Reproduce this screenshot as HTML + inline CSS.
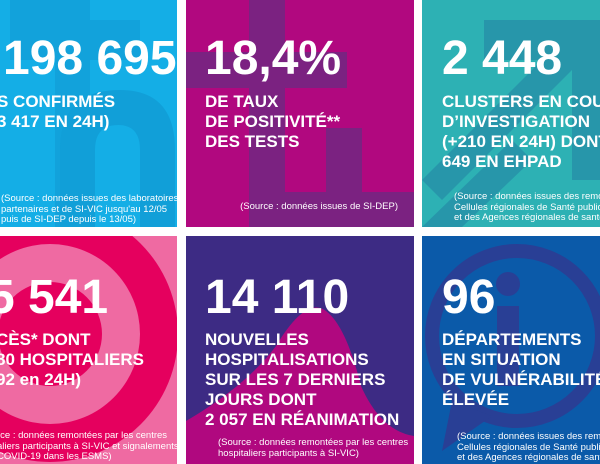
<!DOCTYPE html>
<html><head><meta charset="utf-8"><style>
html,body{margin:0;padding:0;background:#fff;width:600px;height:464px;overflow:hidden}
body{position:relative;font-family:"Liberation Sans",Arial,sans-serif;color:#fff}
.t{position:absolute;overflow:hidden}
.t svg{position:absolute;left:0;top:0}
.big{position:absolute;font-weight:bold;font-size:48px;line-height:48px;white-space:nowrap}
.sub{position:absolute;font-weight:bold;font-size:17px;line-height:20px;white-space:nowrap}
.src{position:absolute;font-size:9.5px;line-height:10.5px;white-space:nowrap}
</style></head><body>

<div class="t" style="left:0;top:0;width:177px;height:227px;background:#14aee6">
<svg width="177" height="227"><path d="M10 0 H90 V20 H140 V60 H90 V227 H55 V60 H10 Z" fill="#119fd8" opacity=".8"/><path d="M60 227 V150 Q60 90 120 90 Q175 90 175 150 V227 H140 V150 Q140 125 118 125 Q95 125 95 150 V227Z" fill="#119fd8"/></svg>
<div class="big" style="left:-37px;top:35px">1 198 695</div>
<div class="sub" style="left:-3px;top:92px">S CONFIRMÉS<br>3 417 EN 24H)</div>
<div class="src" style="left:1px;top:194px">(Source : données issues des laboratoires<br>partenaires et de SI-VIC jusqu'au 12/05<br>puis de SI-DEP depuis le 13/05)</div>
</div>

<div class="t" style="left:186px;top:0;width:228px;height:227px;background:#b1087f">
<svg width="228" height="227"><g fill="#7b2281"><rect x="63" y="0" width="36" height="227"/><rect x="0" y="52" width="161" height="36"/><rect x="140" y="128" width="36" height="99"/><rect x="77" y="192" width="151" height="35"/></g></svg>
<div class="big" style="left:19px;top:35px">18,4%</div>
<div class="sub" style="left:19px;top:92px">DE TAUX<br>DE POSITIVITÉ**<br>DES TESTS</div>
<div class="src" style="right:16px;top:202px">(Source : données issues de SI-DEP)</div>
</div>

<div class="t" style="left:422px;top:0;width:178px;height:227px;background:#2db1b4">
<svg width="178" height="227"><g fill="#2796aa"><polygon points="62,20 178,20 178,180 150,180 150,70 20,200 0,180 120,60 62,60"/><polygon points="0,227 90,140 110,160 40,227"/></g></svg>
<div class="big" style="left:20px;top:35px">2 448</div>
<div class="sub" style="left:20px;top:92px">CLUSTERS EN COURS<br>D’INVESTIGATION<br>(+210 EN 24H) DONT<br>649 EN EHPAD</div>
<div class="src" style="left:32px;top:192px">(Source : données issues des remontées des<br>Cellules régionales de Santé publique France<br>et des Agences régionales de santé)</div>
</div>

<div class="t" style="left:0;top:236px;width:177px;height:228px;background:#ef6aa2">
<svg width="177" height="228"><circle cx="50" cy="98" r="128" fill="#e5005e"/><circle cx="50" cy="98" r="90" fill="#ef6aa2"/><circle cx="50" cy="98" r="52" fill="#e5005e"/></svg>
<div class="big" style="left:-12px;top:38px">5 541</div>
<div class="sub" style="left:-4px;top:94px">CÈS* DONT<br>80 HOSPITALIERS<br>92 en 24H)</div>
<div class="src" style="left:-3px;top:195px">rce : données remontées par les centres<br>aliers participants à SI-VIC et signalements<br>COVID-19 dans les ESMS)</div>
</div>

<div class="t" style="left:186px;top:236px;width:228px;height:228px;background:#3d2b84">
<svg width="228" height="228"><path d="M0 228 V185 Q60 150 90 110 Q120 60 140 75 Q160 90 175 150 Q195 195 228 200 V228Z" fill="#b0087f"/></svg>
<div class="big" style="left:19px;top:38px">14 110</div>
<div class="sub" style="left:19px;top:94px">NOUVELLES<br>HOSPITALISATIONS<br>SUR LES 7 DERNIERS<br>JOURS DONT<br>2 057 EN RÉANIMATION</div>
<div class="src" style="left:32px;top:202px">(Source : données remontées par les centres<br>hospitaliers participants à SI-VIC)</div>
</div>

<div class="t" style="left:422px;top:236px;width:178px;height:228px;background:#0b5aa9">
<svg width="178" height="228"><circle cx="95" cy="100" r="85" fill="none" stroke="#293f95" stroke-width="14"/><rect x="75" y="70" width="22" height="80" fill="#293f95"/><circle cx="86" cy="48" r="12" fill="#293f95"/><polygon points="30,165 20,215 70,180" fill="#293f95"/></svg>
<div class="big" style="left:20px;top:38px">96</div>
<div class="sub" style="left:20px;top:94px">DÉPARTEMENTS<br>EN SITUATION<br>DE VULNÉRABILITÉ<br>ÉLEVÉE</div>
<div class="src" style="left:35px;top:196px">(Source : données issues des remontées des<br>Cellules régionales de Santé publique France<br>et des Agences régionales de santé)</div>
</div>

</body></html>
